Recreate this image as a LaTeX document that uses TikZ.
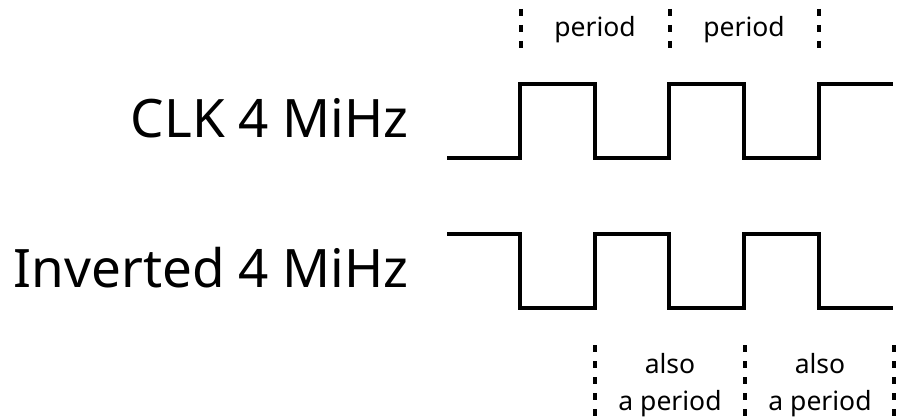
\documentclass[tikz,border=0pt]{standalone}
\usepackage{fontspec}
\setmainfont{Noto Sans}
\begin{document}
\begin{tikzpicture}[x=1pt,y=-1pt,
  wave/.style={line width=3.5pt,line join=miter},
  marker/.style={line width=3.5pt,dash pattern=on 7pt off 9pt},
  biglabel/.style={anchor=base east,inner sep=0pt,font=\fontsize{53}{60}\selectfont},
  smalllabel/.style={anchor=base,inner sep=0pt,font=\fontsize{26.5}{30}\selectfont}]
\useasboundingbox (0,0) rectangle (905,420);
% labels
\node[biglabel] (clk) at (409,137) {CLK 4 MiHz};
\node[biglabel] (inv) at (409,287) {Inverted 4 MiHz};
% clock wave
\draw[wave] (447,158) -- (520,158) -- (520,84) -- (595,84) -- (595,158) -- (669,158) -- (669,84) -- (744,84) -- (744,158) -- (819,158) -- (819,84) -- (893,84);
% inverted wave
\draw[wave] (447,234) -- (520,234) -- (520,308) -- (595,308) -- (595,234) -- (669,234) -- (669,308) -- (744,308) -- (744,234) -- (819,234) -- (819,308) -- (893,308);
% top markers
\coordinate (t1a) at (521,9); \coordinate (t1b) at (521,50);
\coordinate (t2a) at (670,9); \coordinate (t2b) at (670,50);
\coordinate (t3a) at (819,9); \coordinate (t3b) at (819,50);
\draw[marker] (t1a) -- (t1b);
\draw[marker] (t2a) -- (t2b);
\draw[marker] (t3a) -- (t3b);
\node[smalllabel] (p1) at (595,37) {period};
\node[smalllabel] (p2) at (744,37) {period};
% bottom markers
\coordinate (b1a) at (595,345); \coordinate (b1b) at (595,425);
\coordinate (b2a) at (745,345); \coordinate (b2b) at (745,425);
\coordinate (b3a) at (894,345); \coordinate (b3b) at (894,425);
\draw[marker] (b1a) -- (b1b);
\draw[marker] (b2a) -- (b2b);
\draw[marker] (b3a) -- (b3b);
\node[smalllabel] (a1) at (670,373) {also};
\node[smalllabel] (a2) at (670,410) {a period};
\node[smalllabel] (a3) at (820,373) {also};
\node[smalllabel] (a4) at (820,410) {a period};
\end{tikzpicture}
\end{document}
